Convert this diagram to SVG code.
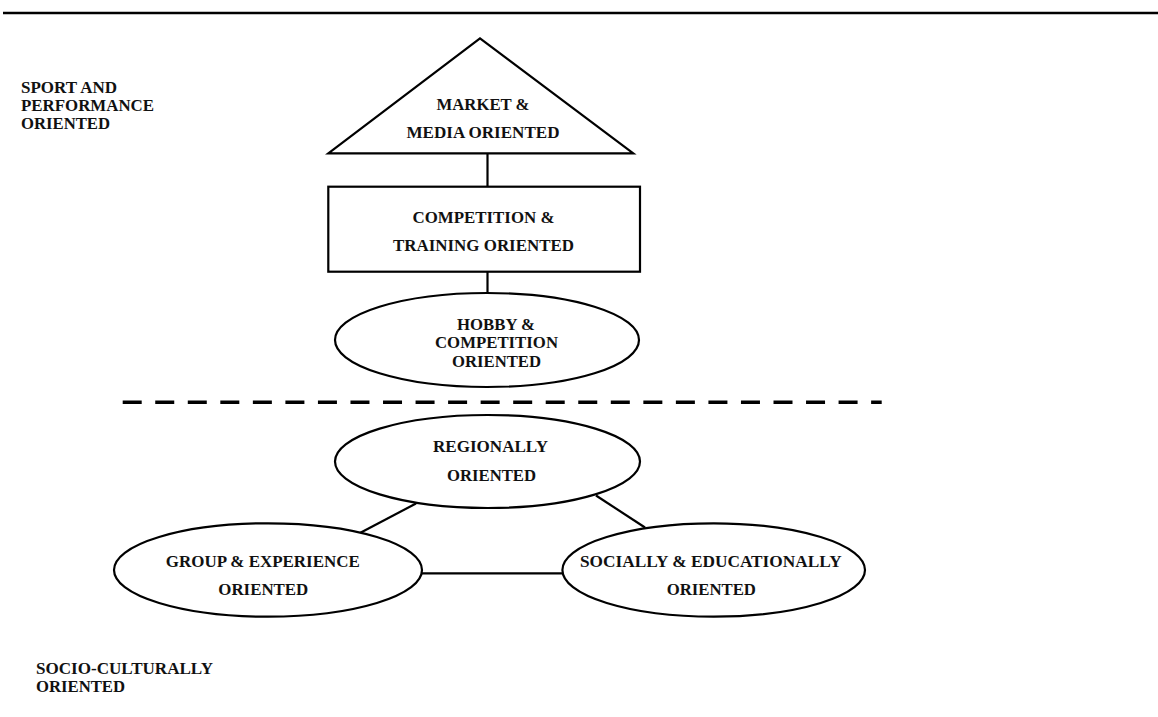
<svg xmlns="http://www.w3.org/2000/svg" width="1158" height="717" viewBox="0 0 1158 717">
  <style>
    .shape { fill: #fff; stroke: #000; stroke-width: 2.2; }
    .link { fill: none; stroke: #000; stroke-width: 2.2; }
    .lbl { font-family: "Liberation Serif", "Times New Roman", serif; font-weight: bold; font-size: 17px; fill: #111; }
    .mid { text-anchor: middle; }
  </style>
  <rect width="1158" height="717" fill="#fff"/>

  <!-- header rule -->
  <line x1="3" y1="13" x2="1158" y2="13" stroke="#000" stroke-width="2.6"/>

  <!-- side captions -->
  <g id="caption-sport">
    <text class="lbl" x="21" y="93" textLength="96" lengthAdjust="spacingAndGlyphs">SPORT AND</text>
    <text class="lbl" x="21" y="111" textLength="133" lengthAdjust="spacingAndGlyphs">PERFORMANCE</text>
    <text class="lbl" x="21" y="129" textLength="89" lengthAdjust="spacingAndGlyphs">ORIENTED</text>
  </g>
  <g id="caption-socio">
    <text class="lbl" x="36" y="674" textLength="177" lengthAdjust="spacingAndGlyphs">SOCIO-CULTURALLY</text>
    <text class="lbl" x="36" y="692" textLength="89" lengthAdjust="spacingAndGlyphs">ORIENTED</text>
  </g>

  <!-- connectors -->
  <g id="connectors">
    <line class="link" x1="487.5" y1="153" x2="487.5" y2="187"/>
    <line class="link" x1="487.5" y1="272" x2="487.5" y2="293"/>
    <line x1="122.7" y1="402.3" x2="881.7" y2="402.3" stroke="#000" stroke-width="3.6" stroke-dasharray="19 13.54"/>
    <line class="link" x1="416" y1="503.5" x2="359" y2="533.5"/>
    <line class="link" x1="596" y1="495.5" x2="645" y2="527.5"/>
    <line class="link" x1="421" y1="573.3" x2="563" y2="573.3"/>
  </g>

  <!-- upper tier -->
  <g id="market-media">
    <polygon class="shape" points="480,38.3 328.3,153.3 633.3,153.3"/>
    <text class="lbl mid" x="483" y="110" textLength="93" lengthAdjust="spacingAndGlyphs">MARKET &amp;</text>
    <text class="lbl mid" x="483" y="138.3" textLength="153" lengthAdjust="spacingAndGlyphs">MEDIA ORIENTED</text>
  </g>
  <g id="competition-training">
    <rect class="shape" x="328.3" y="186.7" width="311.7" height="85"/>
    <text class="lbl mid" x="483.5" y="222.7" textLength="142" lengthAdjust="spacingAndGlyphs">COMPETITION &amp;</text>
    <text class="lbl mid" x="483.5" y="251" textLength="181" lengthAdjust="spacingAndGlyphs">TRAINING ORIENTED</text>
  </g>
  <g id="hobby-competition">
    <ellipse class="shape" cx="487" cy="340" rx="152" ry="47"/>
    <text class="lbl mid" x="496" y="330" textLength="78" lengthAdjust="spacingAndGlyphs">HOBBY &amp;</text>
    <text class="lbl mid" x="496.5" y="348.3" textLength="123" lengthAdjust="spacingAndGlyphs">COMPETITION</text>
    <text class="lbl mid" x="496.5" y="366.7" textLength="89" lengthAdjust="spacingAndGlyphs">ORIENTED</text>
  </g>

  <!-- lower tier -->
  <g id="regionally">
    <ellipse class="shape" cx="487.5" cy="461.5" rx="152.5" ry="46.5"/>
    <text class="lbl mid" x="490.5" y="452" textLength="115" lengthAdjust="spacingAndGlyphs">REGIONALLY</text>
    <text class="lbl mid" x="491.5" y="480.7" textLength="89" lengthAdjust="spacingAndGlyphs">ORIENTED</text>
  </g>
  <g id="group-experience">
    <ellipse class="shape" cx="268" cy="570" rx="154" ry="46.7"/>
    <text class="lbl mid" x="262.8" y="566.7" textLength="194" lengthAdjust="spacingAndGlyphs">GROUP &amp; EXPERIENCE</text>
    <text class="lbl mid" x="263.3" y="595" textLength="90" lengthAdjust="spacingAndGlyphs">ORIENTED</text>
  </g>
  <g id="socially-educationally">
    <ellipse class="shape" cx="713.7" cy="570" rx="151.3" ry="46.7"/>
    <text class="lbl mid" x="710.8" y="566.7" textLength="261.7" lengthAdjust="spacingAndGlyphs">SOCIALLY &amp; EDUCATIONALLY</text>
    <text class="lbl mid" x="711.3" y="595" textLength="89.3" lengthAdjust="spacingAndGlyphs">ORIENTED</text>
  </g>
</svg>
